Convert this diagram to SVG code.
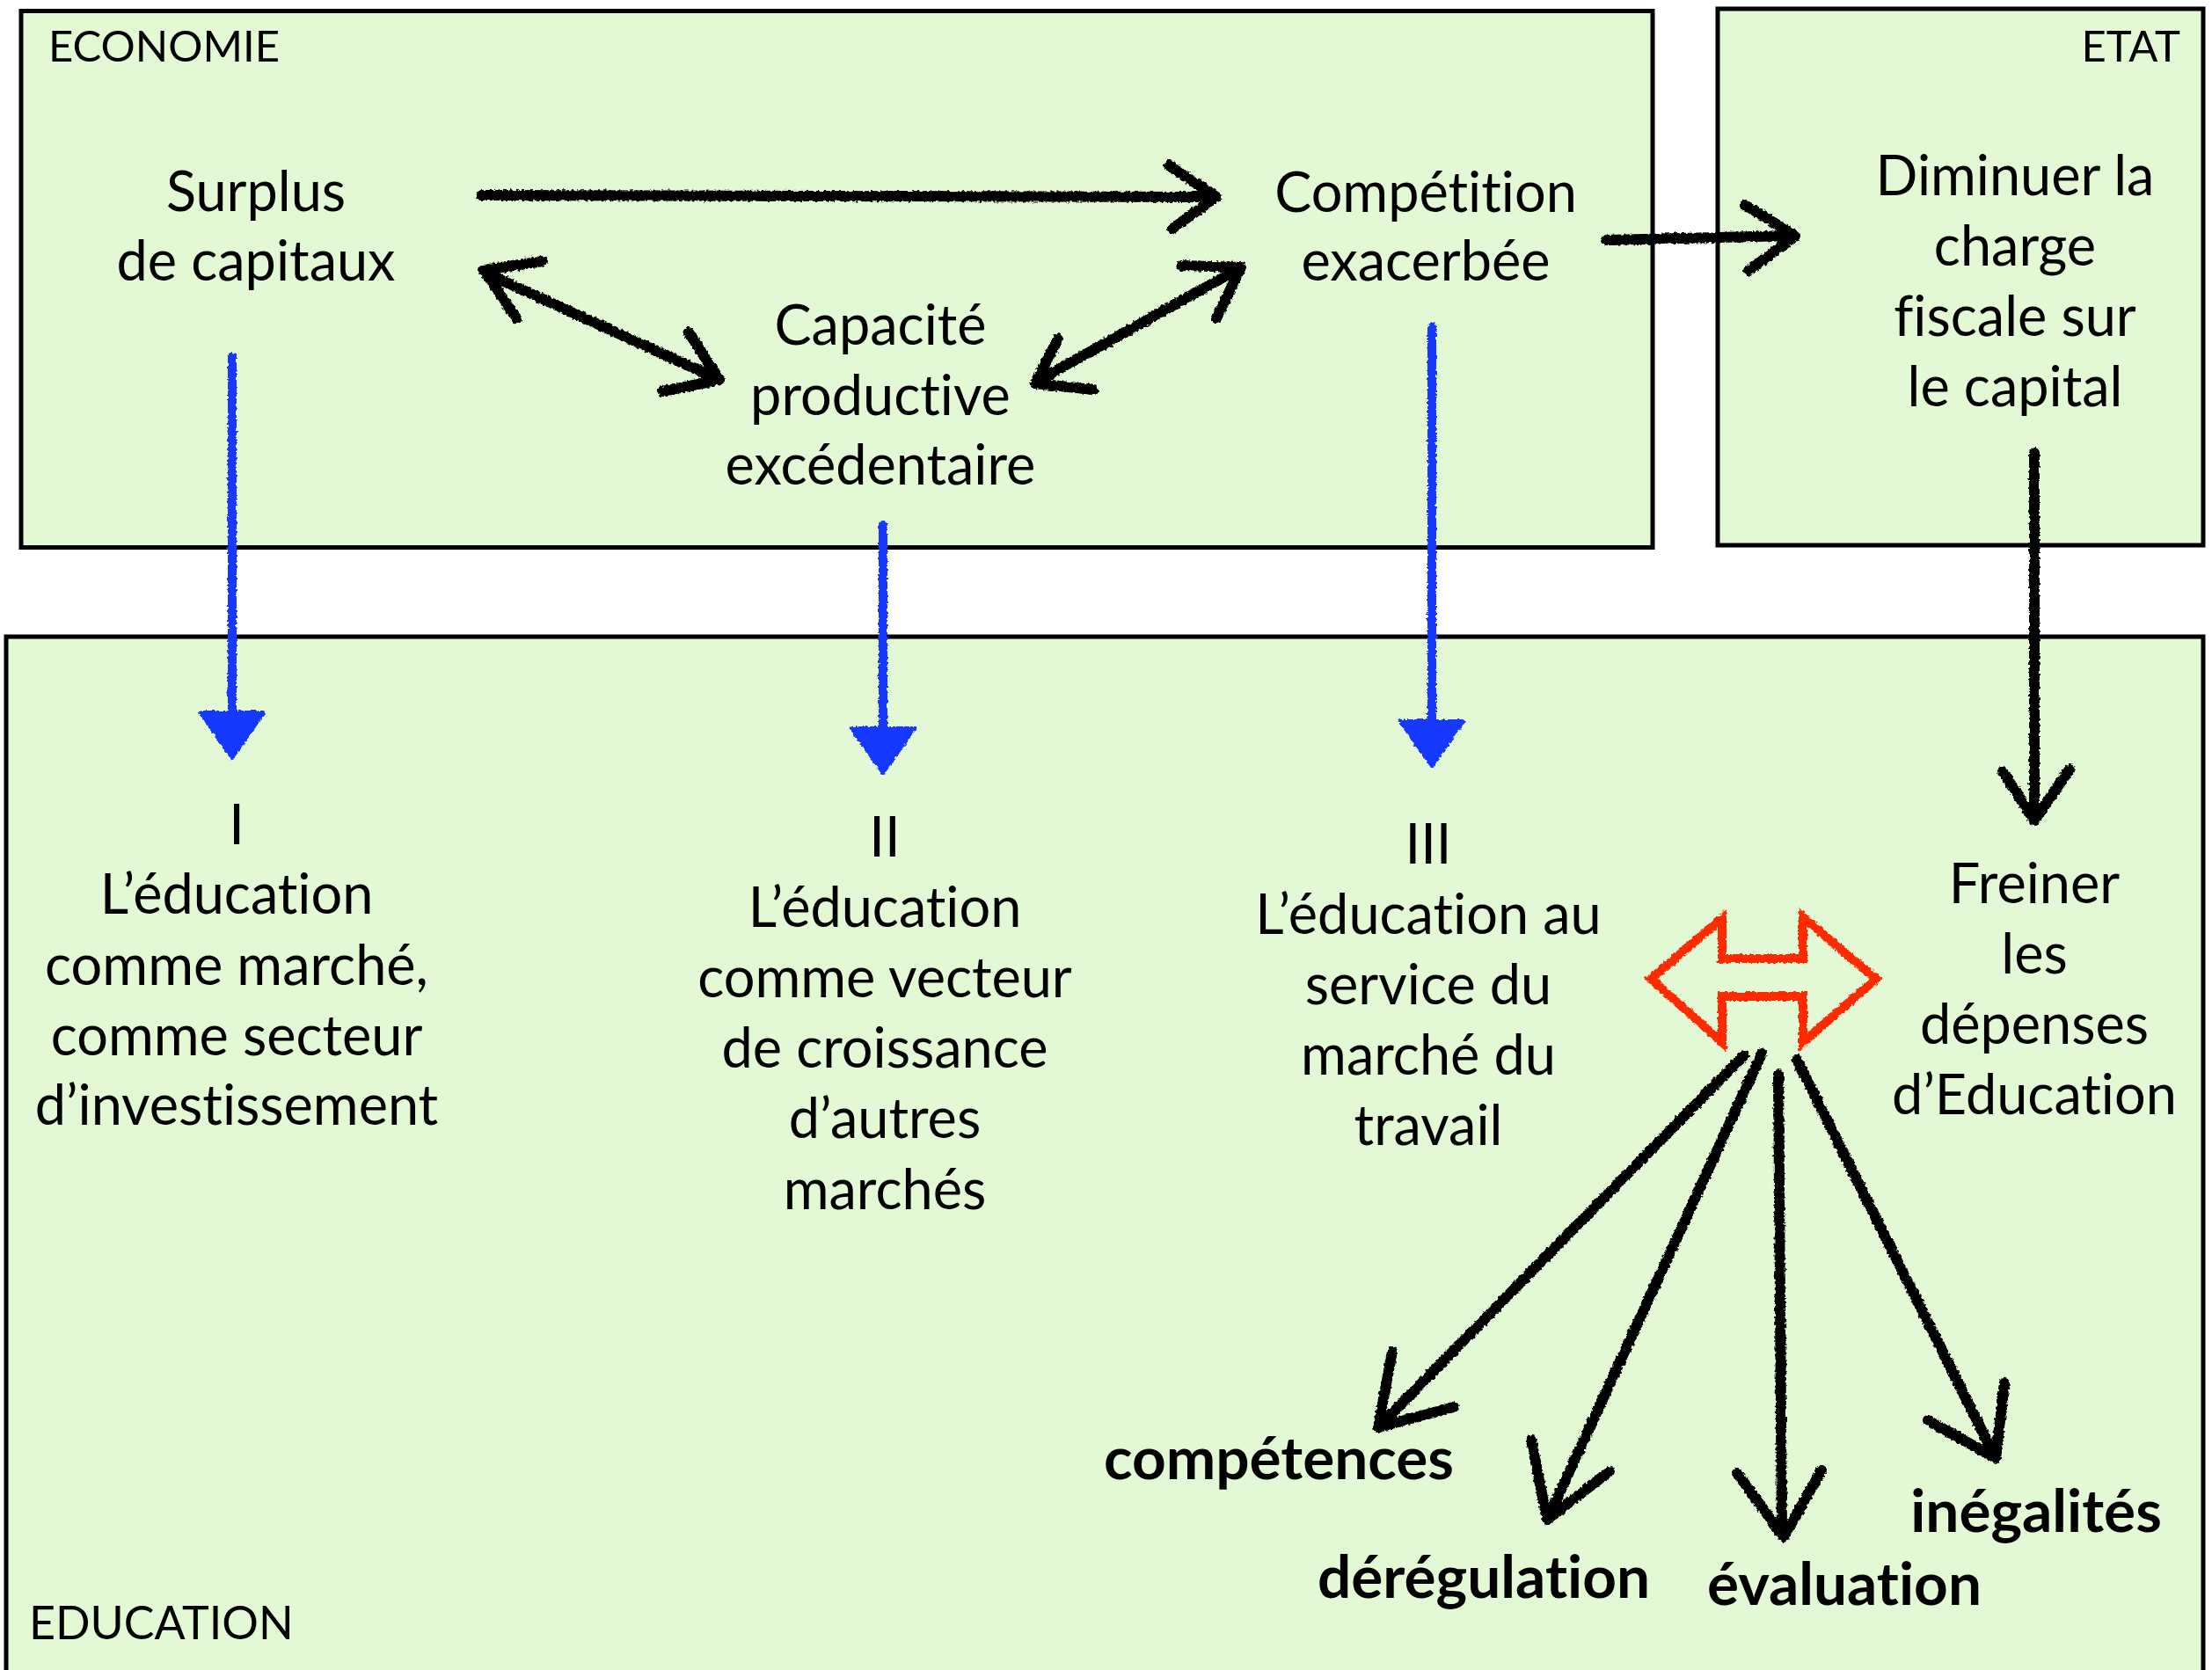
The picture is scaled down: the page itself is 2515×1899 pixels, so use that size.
<svg xmlns="http://www.w3.org/2000/svg" width="2515" height="1899" viewBox="0 0 2515 1899">
<style>
text{font-variant-ligatures:none;font-feature-settings:"liga" 0,"dlig" 0}
.box{fill:#e3f9d5;stroke:#000;stroke-width:5}
.t{font-family:Lato,"Liberation Sans",sans-serif;font-size:63px;fill:#000;text-anchor:middle}
.lbl{font-family:Lato,"Liberation Sans",sans-serif;font-size:49px;fill:#000}
.b{font-family:Lato,"Liberation Sans",sans-serif;font-size:67.5px;font-weight:bold;fill:#000;text-anchor:middle}
.ch{fill:none;stroke:#000;stroke-width:12;stroke-linecap:round;stroke-linejoin:round}
.bl{fill:none;stroke:#1237ff;stroke-width:10;stroke-linecap:round}
.blh{fill:#1237ff;stroke:#1237ff;stroke-width:4;stroke-linejoin:round}
.red{fill:none;stroke:#ff2a00;stroke-width:10;stroke-linejoin:miter}
</style>
<defs>
<filter id="chalk" filterUnits="userSpaceOnUse" x="0" y="0" width="2515" height="1899">
<feTurbulence type="fractalNoise" baseFrequency="0.3" numOctaves="2" seed="4" result="n"/>
<feDisplacementMap in="SourceGraphic" in2="n" scale="5" xChannelSelector="R" yChannelSelector="G"/>
</filter>
</defs>
<rect width="2515" height="1899" fill="#fff"/>
<g id="economie">
<rect class="box" x="24" y="12.5" width="1855" height="610"/>
<text class="lbl" x="55" y="70">ECONOMIE</text>
</g>
<g id="etat">
<rect class="box" x="1953" y="10" width="552" height="610"/>
<text class="lbl" x="2479" y="70" text-anchor="end">ETAT</text>
</g>
<g id="education">
<rect class="box" x="7" y="724" width="2498" height="1200"/>
<text class="lbl" x="33" y="1864" style="font-size:52px">EDUCATION</text>
</g>
<g id="surplus">
<text class="t" x="291" y="240">Surplus</text>
<text class="t" x="291" y="319">de capitaux</text>
</g>
<g id="capacite">
<text class="t" x="1001" y="392">Capacité</text>
<text class="t" x="1001" y="472">productive</text>
<text class="t" x="1001" y="551">excédentaire</text>
</g>
<g id="competition">
<text class="t" x="1621" y="241">Compétition</text>
<text class="t" x="1621" y="319">exacerbée</text>
</g>
<g id="diminuer">
<text class="t" x="2291" y="222">Diminuer la</text>
<text class="t" x="2291" y="302">charge</text>
<text class="t" x="2291" y="382">fiscale sur</text>
<text class="t" x="2291" y="462">le capital</text>
</g>
<g id="educ1">
<text class="t" x="269" y="960">I</text>
<text class="t" x="269" y="1039">L’éducation</text>
<text class="t" x="269" y="1120">comme marché,</text>
<text class="t" x="269" y="1200">comme secteur</text>
<text class="t" x="269" y="1279">d’investissement</text>
</g>
<g id="educ2">
<text class="t" x="1006" y="974">II</text>
<text class="t" x="1006" y="1054">L’éducation</text>
<text class="t" x="1006" y="1134">comme vecteur</text>
<text class="t" x="1006" y="1214">de croissance</text>
<text class="t" x="1006" y="1294">d’autres</text>
<text class="t" x="1006" y="1375">marchés</text>
</g>
<g id="educ3">
<text class="t" x="1624" y="982">III</text>
<text class="t" x="1624" y="1062">L’éducation au</text>
<text class="t" x="1624" y="1142">service du</text>
<text class="t" x="1624" y="1222">marché du</text>
<text class="t" x="1624" y="1302">travail</text>
</g>
<g id="freiner">
<text class="t" x="2313" y="1027">Freiner</text>
<text class="t" x="2313" y="1107">les</text>
<text class="t" x="2313" y="1187">dépenses</text>
<text class="t" x="2313" y="1267">d’Education</text>
</g>
<g id="competences"><text class="b" x="1454" y="1682">compétences</text></g>
<g id="deregulation"><text class="b" x="1687" y="1817">dérégulation</text></g>
<g id="evaluation"><text class="b" x="2097" y="1825">évaluation</text></g>
<g id="inegalites"><text class="b" x="2315" y="1742">inégalités</text></g>
<g id="connectors" filter="url(#chalk)">
<g class="ch">
<path d="M547,222 L1378,224 M1329,188 L1383,224 L1333,260"/>
<path d="M558,313 L814,430 M617,297 L550,307 L587,362 M783,378 L818,432 L753,445"/>
<path d="M1182,432 L1406,307 M1203,385 L1177,436 L1243,443 M1343,302 L1411,304 L1383,362"/>
<path d="M1827,273 L2036,268 M1984,233 L2041,268 L1988,308"/>
<path d="M2313,515 L2313,930 M2277,877 L2313,933 L2353,875"/>
<path d="M1983,1200 L1572,1618 M1583,1537 L1567,1623 L1653,1600"/>
<path d="M2003,1198 L1762,1722 M1741,1638 L1759,1728 L1830,1673"/>
<path d="M2022,1222 L2026,1744 M1975,1675 L2028,1748 L2071,1672"/>
<path d="M2043,1205 L2266,1652 M2192,1615 L2269,1658 L2279,1572"/>
</g>
<path class="bl" d="M264,406 L264,815"/>
<polygon class="blh" points="228,810 300,810 264,862"/>
<path class="bl" d="M1004,597 L1004,830"/>
<polygon class="blh" points="968,828 1040,828 1004,879"/>
<path class="bl" d="M1628,372 L1628,822"/>
<polygon class="blh" points="1592,820 1664,820 1628,871"/>
<polygon class="red" points="1877,1113 1958,1044 1958,1090 2050,1090 2050,1043 2133,1113 2050,1185 2050,1133 1958,1133 1958,1185"/>
</g>
</svg>
